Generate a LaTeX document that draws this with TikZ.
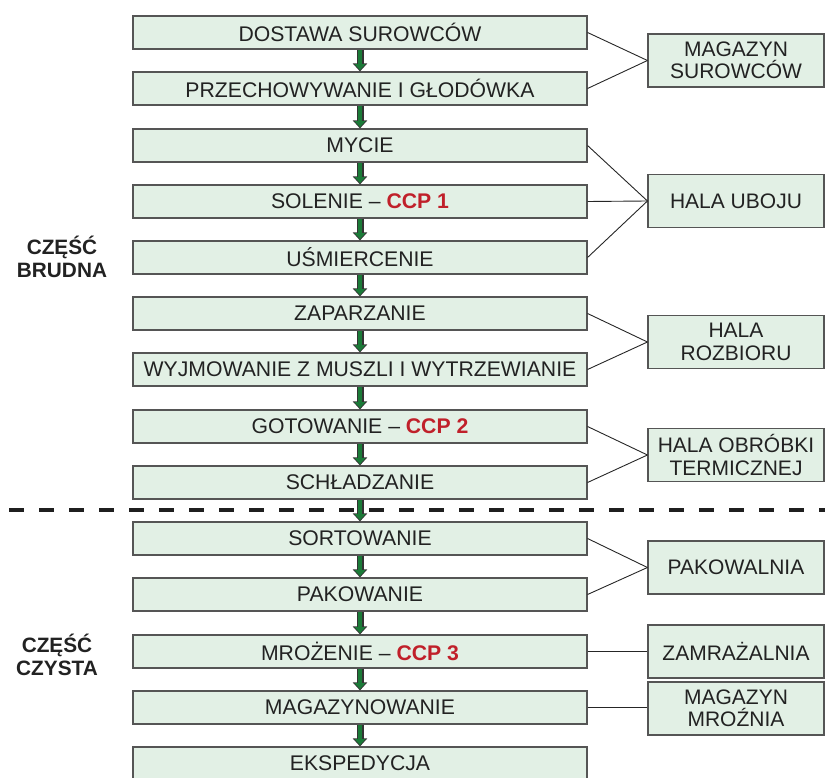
\documentclass[tikz,border=0pt]{standalone}
\usepackage{fontspec}
\setmainfont{Liberation Sans}
\usetikzlibrary{arrows.meta}
\definecolor{boxfill}{HTML}{E2F0E5}
\definecolor{boxline}{HTML}{555555}
\definecolor{arrgreen}{HTML}{1B7A38}
\definecolor{ccpred}{HTML}{C0202A}
\definecolor{txt}{HTML}{222222}
\tikzset{
  stepbox/.style={draw=boxline, line width=1.1pt, fill=boxfill, minimum width=454pt, minimum height=33pt, inner sep=0pt, text=txt, font=\fontsize{21.2}{24}\selectfont},
  roombox/.style={draw=boxline, line width=1.1pt, fill=boxfill, minimum width=176pt, minimum height=53pt, inner sep=0pt, text=txt, align=center, font=\fontsize{21}{22.5}\selectfont},
  partlabel/.style={text=txt, align=center, font=\bfseries\fontsize{20.8}{23}\selectfont},
  flowarrow/.style={draw=black!80, line width=7pt, -{Triangle[width=14pt,length=8pt]},
     postaction={draw=arrgreen, line width=4.5pt, shorten >=1.3pt, -{Triangle[width=10.5pt,length=6pt]}}},
  link/.style={draw=black!85, line width=0.9pt},
  ccp/.style={text=ccpred, font=\bfseries}
}
\begin{document}
\begin{tikzpicture}[x=1pt,y=-1pt]
\useasboundingbox (0,0) rectangle (825,778);
% dashed divider
\draw[line width=4pt, draw=black!88, dash pattern=on 15pt off 15pt] (9,509.5) -- (825,509.5);
% process boxes
\node[stepbox] (s1)  at (360,32.5)  {DOSTAWA SUROWCÓW};
\node[stepbox] (s2)  at (360,88.5)  {PRZECHOWYWANIE I GŁODÓWKA};
\node[stepbox] (s3)  at (360,145.5) {MYCIE};
\node[stepbox] (s4)  at (360,201.5) {SOLENIE – \textcolor{ccpred}{\bfseries CCP 1}};
\node[stepbox] (s5)  at (360,257.5) {UŚMIERCENIE};
\node[stepbox] (s6)  at (360,313.5) {ZAPARZANIE};
\node[stepbox] (s7)  at (360,369.5) {WYJMOWANIE Z MUSZLI I WYTRZEWIANIE};
\node[stepbox] (s8)  at (360,426.5) {GOTOWANIE – \textcolor{ccpred}{\bfseries CCP 2}};
\node[stepbox] (s9)  at (360,482.5) {SCHŁADZANIE};
\node[stepbox] (s10) at (360,538.5) {SORTOWANIE};
\node[stepbox] (s11) at (360,594.5) {PAKOWANIE};
\node[stepbox] (s12) at (360,651.5) {MROŻENIE – \textcolor{ccpred}{\bfseries CCP 3}};
\node[stepbox] (s13) at (360,707.5) {MAGAZYNOWANIE};
\node[stepbox] (s14) at (360,763.5) {EKSPEDYCJA};
% arrows
\foreach \a/\b in {s1/s2,s2/s3,s3/s4,s4/s5,s5/s6,s6/s7,s7/s8,s8/s9,s9/s10,s10/s11,s11/s12,s12/s13,s13/s14}
  \draw[flowarrow] (\a.south) -- (\b.north);
% rooms
\node[roombox] (r1) at (736,60.5)  {MAGAZYN\\SUROWCÓW};
\node[roombox] (r2) at (736,201)   {HALA UBOJU};
\node[roombox] (r3) at (736,342)   {HALA\\ROZBIORU};
\node[roombox] (r4) at (736,455)   {HALA OBRÓBKI\\TERMICZNEJ};
\node[roombox] (r5) at (736,567.5) {PAKOWALNIA};
\node[roombox] (r6) at (736,651.5) {ZAMRAŻALNIA};
\node[roombox] (r7) at (736,708.5) {MAGAZYN\\MROŹNIA};
% links
\draw[link] (s1.east) -- (r1.west);
\draw[link] (s2.east) -- (r1.west);
\draw[link] (s3.east) -- (r2.west);
\draw[link] (s4.east) -- (r2.west);
\draw[link] (s5.east) -- (r2.west);
\draw[link] (s6.east) -- (r3.west);
\draw[link] (s7.east) -- (r3.west);
\draw[link] (s8.east) -- (r4.west);
\draw[link] (s9.east) -- (r4.west);
\draw[link] (s10.east) -- (r5.west);
\draw[link] (s11.east) -- (r5.west);
\draw[link] (s12.east) -- (r6.west);
\draw[link] (s13.east) -- (r7.west |- s13.east);
% part labels
\node[partlabel] (pb) at (62,257) {CZĘŚĆ\\BRUDNA};
\node[partlabel] (pc) at (57,655) {CZĘŚĆ\\CZYSTA};
\end{tikzpicture}
\end{document}
